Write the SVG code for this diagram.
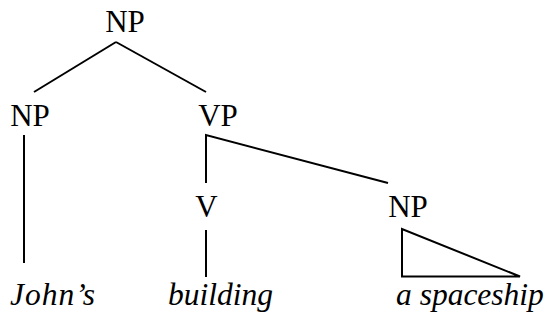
<svg xmlns="http://www.w3.org/2000/svg" width="547" height="320" viewBox="0 0 547 320">
<style>
.lbl{font-family:"Liberation Serif","Times New Roman",serif;font-size:31px;fill:#000;text-anchor:middle}
.word{font-family:"Liberation Serif","Times New Roman",serif;font-size:31.5px;font-style:italic;fill:#000}
.edge{stroke:#000;stroke-width:2;fill:none}
</style>
<rect width="547" height="320" fill="#fff"/>
<g id="connectors">
<line class="edge" x1="116" y1="42" x2="34" y2="92"/>
<line class="edge" x1="116" y1="42" x2="206" y2="92"/>
<line class="edge" x1="24" y1="135" x2="24" y2="263"/>
<polyline class="edge" points="206,183 206,135 388,183"/>
<line class="edge" x1="206" y1="230" x2="206" y2="277"/>
<polygon class="edge" points="402,229 402,276.5 520,276.5"/>
</g>
<g id="np-root"><text class="lbl" x="125" y="32">NP</text></g>
<g id="np-left"><text class="lbl" x="30" y="126">NP</text></g>
<g id="vp"><text class="lbl" x="218" y="126">VP</text></g>
<g id="v"><text class="lbl" x="206.5" y="217">V</text></g>
<g id="np-right"><text class="lbl" x="408" y="217">NP</text></g>
<g id="johns"><text class="word" x="10" y="305" textLength="85" lengthAdjust="spacing">John’s</text></g>
<g id="building"><text class="word" x="168" y="305">building</text></g>
<g id="spaceship"><text class="word" x="396" y="305">a spaceship</text></g>
</svg>
